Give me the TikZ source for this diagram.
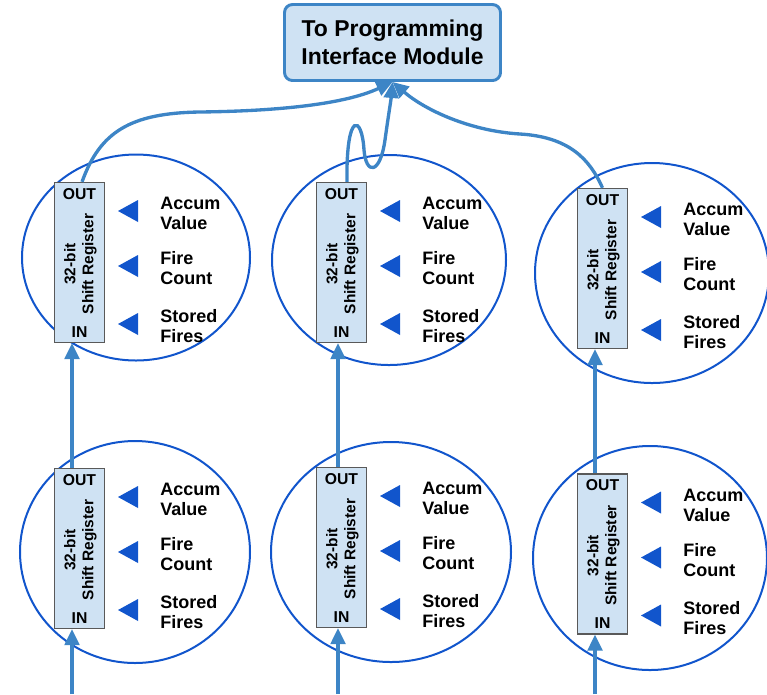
\documentclass[tikz,border=0pt]{standalone}
\usepackage{fontspec}
\setmainfont{Liberation Sans}
\usepackage{xcolor}
\usepackage{tikz}
\usetikzlibrary{shapes,arrows.meta,positioning}

\definecolor{flowblue}{HTML}{3D85C6}
\definecolor{ringblue}{HTML}{1155CC}
\definecolor{regfill}{HTML}{CFE2F3}
\definecolor{regedge}{HTML}{595959}

\begin{document}
\begin{tikzpicture}[x=0.75pt, y=-0.75pt]
  \tikzstyle{pimbox} = [rectangle, draw=flowblue, line width=2.2pt, fill=regfill, rounded corners=6pt, minimum width=162pt, minimum height=57pt, align=center, font=\fontsize{17.2}{21}\selectfont\bfseries]
  \tikzstyle{regbox} = [rectangle, draw=regedge, line width=1pt, fill=regfill, minimum width=37.5pt, minimum height=120pt, inner sep=0pt]
  \tikzstyle{port} = [inner sep=0pt, font=\fontsize{11.8}{14}\selectfont\bfseries]
  \tikzstyle{regtext} = [rotate=90, align=center, inner sep=0pt, font=\fontsize{11.6}{13.5}\selectfont\bfseries]
  \tikzstyle{field} = [anchor=west, align=left, inner sep=0pt, font=\fontsize{13.5}{15}\selectfont\bfseries]
  \tikzstyle{ring} = [draw=ringblue, line width=1.5pt]
  \tikzstyle{pointer} = [fill=ringblue]
  \tikzstyle{feed} = [draw=flowblue, line width=2.5pt, -{Triangle[length=12pt,width=11pt]}]

  \useasboundingbox (0,0) rectangle (767,694);

  \node[pimbox] (pim) at (392.5,42.5) {To Programming\\Interface Module};

  % Register cells
  \foreach \c/\bx/\by/\ex/\ey/\rx/\ry in {1T/79.5/262.5/136/257.5/114/103, 2T/341.5/262.5/389/260/117/105, 3T/602.5/268.5/652/273/117/110, 1B/79.5/548.5/135/552/115/111, 2B/341.5/547.5/391/552/120/110, 3B/602.5/554/650/558/117/112} {
    \draw[ring] (\ex,\ey) ellipse [x radius=\rx, y radius=\ry];
    \node[regbox] (reg\c) at (\bx,\by) {};
    \node[port] (out\c) at (\bx,{\by-68.5}) {OUT};
    \node[port] (in\c) at (\bx,{\by+69.5}) {IN};
    \node[regtext] (name\c) at ({\bx+1},{\by+1.5}) {32-bit\\Shift Register};
    \foreach \dy/\txt in {-51.5/{Accum\\Value}, 3.5/{Fire\\Count}, 61.5/{Stored\\Fires}} {
      \fill[pointer] ({\bx+38.5},{\by+(\dy)}) -- ++(20,-11) -- ++(0,22) -- cycle;
      \node[field] at ({\bx+80.5},{\by+(\dy)+2.5}) {\txt};
    }
  }

  % Shift chain
  \coordinate (feed1) at (72,694);
  \coordinate (feed2) at (338,694);
  \coordinate (feed3) at (595,694);
  \draw[feed] (feed1) -- (feed1 |- reg1B.south);
  \draw[feed] (feed2) -- (feed2 |- reg2B.south);
  \draw[feed] (feed3) -- (feed3 |- reg3B.south);
  \draw[feed] (feed1 |- reg1B.north) -- (feed1 |- reg1T.south);
  \draw[feed] (feed2 |- reg2B.north) -- (feed2 |- reg2T.south);
  \draw[feed] (feed3 |- reg3B.north) -- (feed3 |- reg3T.south);

  % Outputs to the interface
  \draw[feed] ([xshift=1.9pt]reg1T.north) .. controls (100,132) and (130,113) .. (200,112)
    .. controls (280,111) and (345,104) .. (pim.south);
  \draw[feed] ([xshift=4.1pt]reg2T.north) .. controls (346,110) and (362,115) .. (364,150)
    .. controls (366,175) and (380,175) .. (385,140)
    .. controls (388,118) and (391,100) .. (pim.south);
  \draw[feed] (reg3T.north) .. controls (590,160) and (570,137) .. (520,134)
    .. controls (470,131) and (425,110) .. (pim.south);
\end{tikzpicture}
\end{document}
